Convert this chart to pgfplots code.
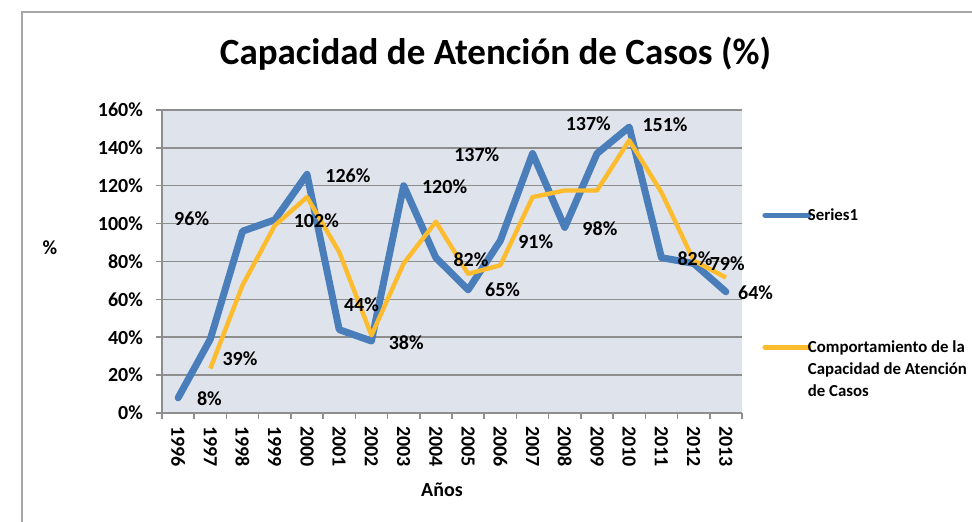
\documentclass[border=0pt]{standalone}
\usepackage{fontspec}
\setmainfont{Carlito}
\usepackage{pgfplots}
\usepackage{pgfplotstable}
\pgfplotsset{compat=1.18}

\definecolor{serieblue}{HTML}{4A7EBB}
\definecolor{trendorange}{HTML}{FDBB2E}
\definecolor{plotbg}{HTML}{DFE3EB}
\definecolor{gridgray}{HTML}{8E8E8E}
\definecolor{framegray}{HTML}{A6A6A6}

% Series1: capacidad de atencion por anio (1996 = 0)
\pgfplotstableread{
x y
0 8
1 39
2 96
3 102
4 126
5 44
6 38
7 120
8 82
9 65
10 91
11 137
12 98
13 137
14 151
15 82
16 79
17 64
}\capacidad

% linea de tendencia (media movil de 2 periodos)
\pgfplotstableread{
x y
1 23.5
2 67.5
3 99
4 114
5 85
6 41
7 79
8 101
9 73.5
10 78
11 114
12 117.5
13 117.5
14 144
15 116.5
16 80.5
17 71.5
}\tendencia

% etiquetas de datos, tal como quedaron movidas en el original
\pgfplotstableread{
x y lab
0.42 102.8 96
0.97 7.8 8
1.92 28.9 39
4.29 101.4 102
5.27 125.1 126
5.69 57.4 44
7.08 37.1 38
8.27 119.5 120
9.09 81.1 82
9.27 136.6 137
10.07 64.9 65
11.10 90.4 91
12.73 152.9 137
13.09 97.1 98
15.11 152.4 151
16.04 81.7 82
17.04 79.0 79
17.92 63.5 64
}\etiquetas

\begin{document}
\begin{tikzpicture}
\draw[framegray, line width=0.75pt] (11pt,-10pt) -- (11pt,255pt) -- (500pt,255pt);
\node[font=\bfseries\fontsize{18.5}{22}\selectfont] at (247.75pt,234pt) {Capacidad de Atención de Casos (\%)};
\node[font=\bfseries\fontsize{10}{12}\selectfont] at (25pt,137pt) {\%};
\node[font=\bfseries\fontsize{10}{12}\selectfont] at (221pt,16pt) {Años};

\begin{axis}[
    at={(81pt,54.5pt)}, anchor=south west,
    scale only axis, width=290pt, height=151.5pt,
    xmin=-0.5, xmax=17.5, ymin=0, ymax=160,
    clip=false,
    axis background/.style={fill=plotbg},
    axis x line*=bottom, axis y line*=left,
    axis line style={-, gridgray, line width=0.75pt},
    tick align=outside, major tick length=3pt,
    tick style={gridgray, line width=0.75pt},
    xtick={-0.5,0.5,1.5,2.5,3.5,4.5,5.5,6.5,7.5,8.5,9.5,10.5,11.5,12.5,13.5,14.5,15.5,16.5,17.5},
    x tick label as interval,
    xticklabels={1996,1997,1998,1999,2000,2001,2002,2003,2004,2005,2006,2007,2008,2009,2010,2011,2012,2013},
    ytick={0,20,40,60,80,100,120,140,160},
    yticklabels={0\%,20\%,40\%,60\%,80\%,100\%,120\%,140\%,160\%},
    tick label style={font=\bfseries\fontsize{10}{12}\selectfont},
    xticklabel style={rotate=-90, anchor=west},
    yticklabel style={xshift=-3pt},
    ymajorgrids,
    grid style={gridgray, line width=0.75pt},
    legend style={at={(1.0345,0.69)}, anchor=north west, draw=none, fill=none,
        inner sep=0pt, column sep=-2pt, row sep=0pt,
        font=\bfseries\fontsize{8.4}{10}\selectfont,
        nodes={inner sep=0.25pt, text height=8pt, text depth=2.5pt}},
    legend cell align=left,
    legend image code/.code={\draw[#1, line width=2.5pt, line cap=round] (0pt,0pt) -- (22pt,0pt);},
]
\addplot[serieblue, line width=3.5pt, line join=round, line cap=round] table {\capacidad};
\addlegendentry{Series1}
\addlegendimage{empty legend}\addlegendentry{}
\addlegendimage{empty legend}\addlegendentry{}
\addlegendimage{empty legend}\addlegendentry{}
\addlegendimage{empty legend}\addlegendentry{}
\addlegendimage{empty legend}\addlegendentry{}
\addplot[trendorange, line width=2.2pt, line join=round] table {\tendencia};
\addlegendentry{Comportamiento de la}
\addlegendimage{empty legend}\addlegendentry{Capacidad de Atención}
\addlegendimage{empty legend}\addlegendentry{de Casos}

\addplot[draw=none, forget plot, point meta=explicit symbolic,
    nodes near coords={\pgfplotspointmeta\%},
    nodes near coords style={anchor=center, text=black, font=\bfseries\fontsize{10}{12}\selectfont}]
    table[meta=lab] {\etiquetas};
\end{axis}

\pgfresetboundingbox
\useasboundingbox (0pt,0pt) rectangle (486pt,261pt);
\end{tikzpicture}
\end{document}
